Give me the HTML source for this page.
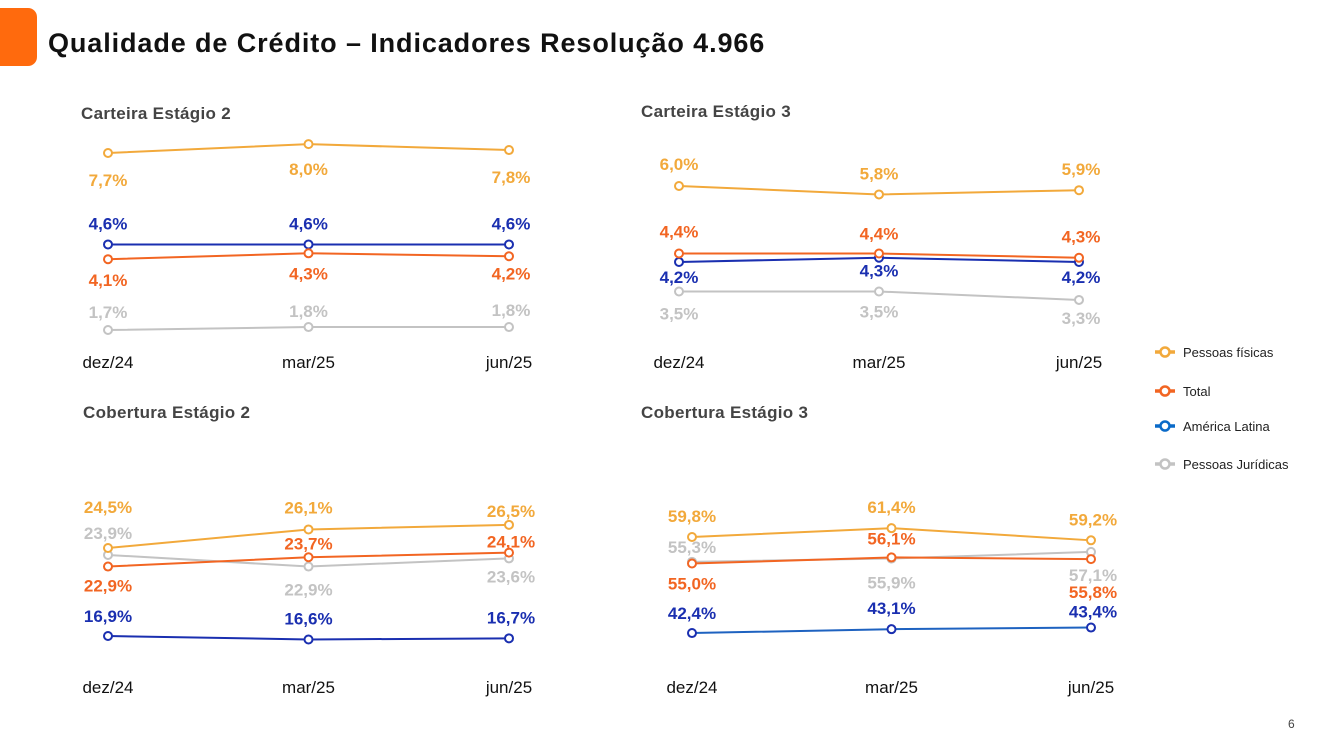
<!DOCTYPE html>
<html><head><meta charset="utf-8"><style>
html,body{margin:0;padding:0;background:#fff;}
svg{display:block;font-family:"Liberation Sans",sans-serif;}
</style></head><body>
<svg id="s" width="1318" height="743" viewBox="0 0 1318 743">
<rect x="-10" y="8" width="47" height="58" rx="9" fill="#ff6a0d"/>
<text x="48" y="52" font-size="27" font-weight="bold" fill="#111" letter-spacing="0.9">Qualidade de Crédito – Indicadores Resolução 4.966</text>
<text x="1288" y="728" font-size="12" fill="#444">6</text>
<g id="legend"></g>
<g id="charts"></g>
</svg>
<script>
const categories=["dez/24","mar/25","jun/25"];
const seriesNames=["Pessoas físicas","Total","América Latina","Pessoas Jurídicas"];
const cs2PF=[7.7,8.0,7.8], cs2TOT=[4.1,4.3,4.2], cs2LA=[4.6,4.6,4.6], cs2PJ=[1.7,1.8,1.8];
const cs3PF=[6.0,5.8,5.9], cs3TOT=[4.4,4.4,4.3], cs3LA=[4.2,4.3,4.2], cs3PJ=[3.5,3.5,3.3];
const cob2PF=[24.5,26.1,26.5], cob2TOT=[22.9,23.7,24.1], cob2LA=[16.9,16.6,16.7], cob2PJ=[23.9,22.9,23.6];
const cob3PF=[59.8,61.4,59.2], cob3TOT=[55.0,56.1,55.8], cob3LA=[42.4,43.1,43.4], cob3PJ=[55.3,55.9,57.1];

const colors=["#f2a93b","#f26522","#1a2fb0","#c3c3c3"];
const lineColors=["#f2a93b","#f26522","#1a2fb0","#c3c3c3"];
const NS="http://www.w3.org/2000/svg";
const svg=document.getElementById('s');
const charts=document.getElementById('charts');
function mk(t,a,p){const e=document.createElementNS(NS,t);for(const k in a)e.setAttribute(k,a[k]);(p||charts).appendChild(e);return e;}
const panels=[
 {title:"Carteira Estágio 2",tx:81,ty:119,x0:108,dx:200.5,y0:153,v0:7.7,k:29.5,xl:362,
  data:[cs2PF,cs2TOT,cs2LA,cs2PJ],off:[[27,25,27],[21,20,17],[-21,-21,-21],[-18,-16,-17]],lc:lineColors},
 {title:"Carteira Estágio 3",tx:641,ty:117,x0:679,dx:200,y0:186,v0:6.0,k:42.2,xl:362,
  data:[cs3PF,cs3TOT,cs3LA,cs3PJ],off:[[-22,-21,-21],[-22,-20,-21],[15,13,15],[22,20,18]],lc:lineColors},
 {title:"Cobertura Estágio 2",tx:83,ty:418,x0:108,dx:200.5,y0:548,v0:24.5,k:11.58,xl:687,
  data:[cob2PF,cob2TOT,cob2LA,cob2PJ],off:[[-41,-22,-14],[19,-14,-11],[-20,-21,-21],[-22,23,18]],lc:lineColors},
 {title:"Cobertura Estágio 3",tx:641,ty:418,x0:692,dx:199.5,y0:537,v0:59.8,k:5.52,xl:687,
  data:[cob3PF,cob3TOT,cob3LA,cob3PJ],off:[[-21,-21,-21],[20,-19,33],[-20,-21,-16],[-15,24,23]],lc:["#f2a93b","#f26522","#1e62c0","#c3c3c3"]}
];
panels.forEach((p,pi)=>{
 const g=mk('g',{});
 
 
 const xs=i=>p.x0+i*p.dx, ys=v=>p.y0+(p.v0-v)*p.k;
 const t=mk('text',{x:p.tx,y:p.ty,'font-size':17,'font-weight':'bold',fill:'#444','letter-spacing':'0.3'},g);
 t.textContent=p.title;
 
 
 categories.forEach((c,i)=>{
  const l=mk('text',{x:xs(i),y:p.xl+6,'font-size':17,fill:'#111','text-anchor':'middle'},g);
  l.textContent=c;
  
  
 });
 [3,2,1,0].forEach(si=>{
  const vals=p.data[si];
  const d=vals.map((v,i)=>(i?'L':'M')+xs(i)+','+ys(v)).join(' ');
  const ln=mk('path',{d:d,fill:'none',stroke:p.lc[si],'stroke-width':2},g);
  
  
  vals.forEach((v,i)=>{
   const c=mk('circle',{cx:xs(i),cy:ys(v),r:4,fill:'#fff',stroke:colors[si],'stroke-width':2},g);
   
   
   const lb=mk('text',{x:xs(i)+(i==2?2:0),y:ys(v)+p.off[si][i]+6,'font-size':17,'font-weight':'bold',fill:colors[si],'text-anchor':'middle'},g);
   lb.textContent=v.toFixed(1).replace('.',',')+'%';
   
   
  });
 });
});
const lg=document.getElementById('legend');
const legY=[352,391,426,464];
seriesNames.forEach((n,i)=>{
 const col=i==2?"#0a6ac8":colors[i];
 const e=mk('g',{},lg);
 
 
 mk('line',{x1:1155,x2:1175,y1:legY[i],y2:legY[i],stroke:col,'stroke-width':3.5},e);
 mk('circle',{cx:1165,cy:legY[i],r:4.5,fill:'#fff',stroke:col,'stroke-width':2.5},e);
 const t=mk('text',{x:1183,y:legY[i]+5,'font-size':13,fill:'#222'},e);
 t.textContent=n;
});
</script>
</body></html>
